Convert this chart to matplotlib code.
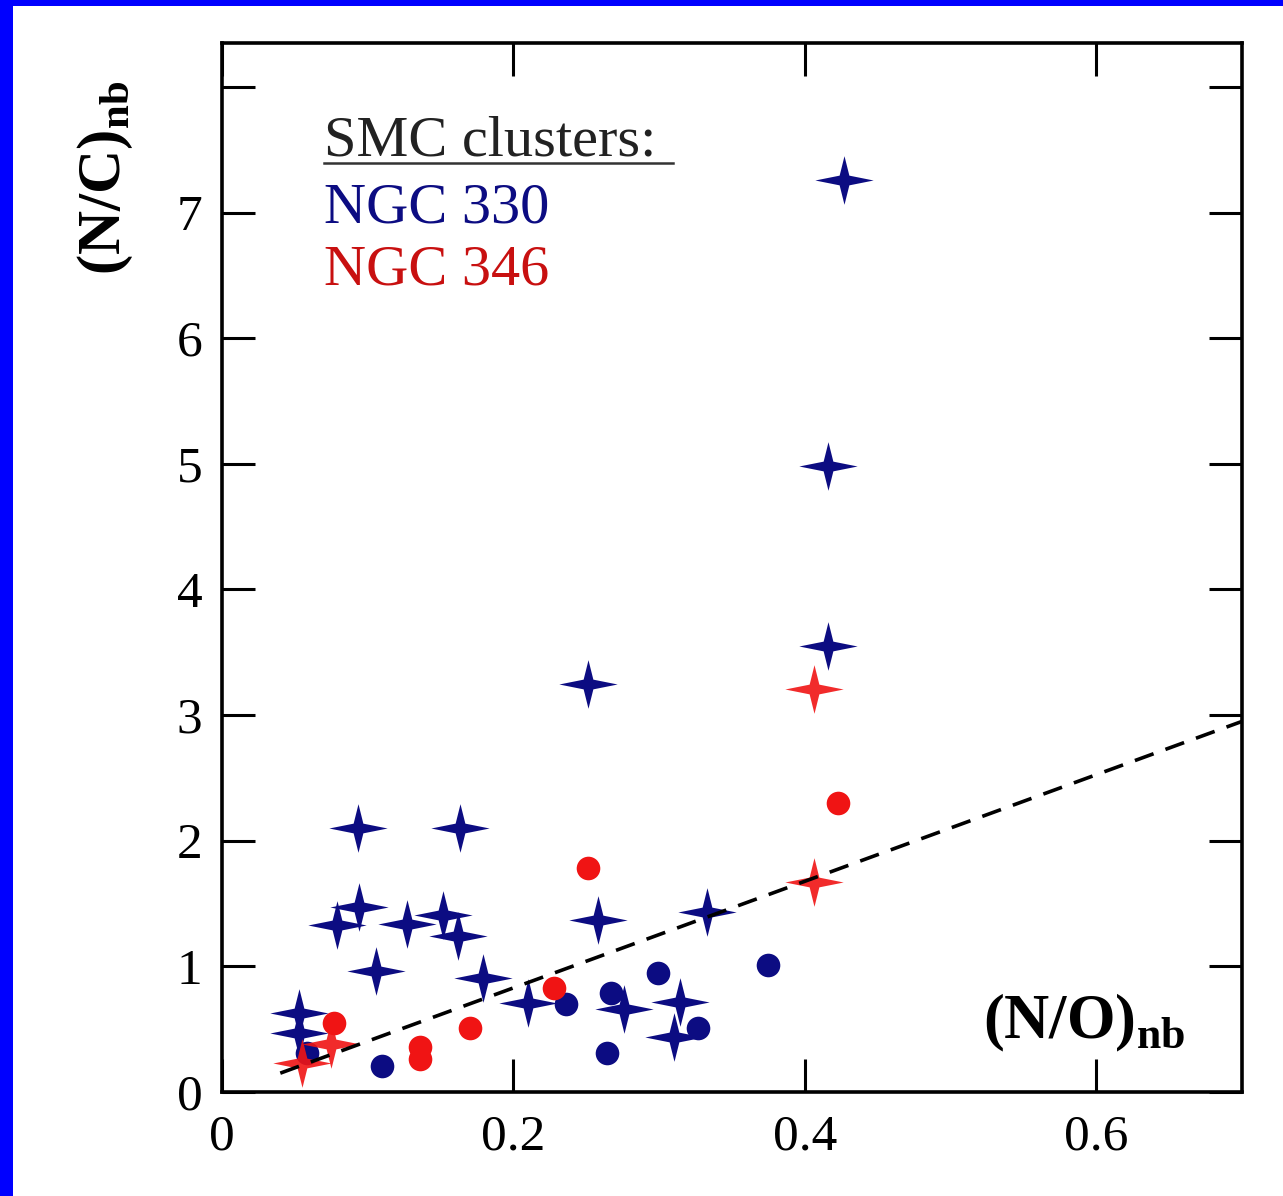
import matplotlib
matplotlib.use("Agg")
import matplotlib.pyplot as plt
from matplotlib.path import Path
from matplotlib.patches import Rectangle

# --- data ---
# NGC 330 (blue)
ngc330_star_x = [0.427, 0.416, 0.416, 0.251, 0.093, 0.163, 0.094, 0.079, 0.127, 0.152,
                 0.162, 0.106, 0.179, 0.210, 0.053, 0.053, 0.258, 0.333, 0.276, 0.314, 0.310]
ngc330_star_y = [7.26, 4.98, 3.55, 3.25, 2.10, 2.10, 1.47, 1.33, 1.34, 1.41,
                 1.24, 0.96, 0.91, 0.71, 0.63, 0.47, 1.37, 1.43, 0.66, 0.72, 0.44]
ngc330_dot_x = [0.058, 0.110, 0.236, 0.267, 0.299, 0.375, 0.327, 0.264]
ngc330_dot_y = [0.31, 0.21, 0.70, 0.79, 0.95, 1.01, 0.51, 0.31]

# NGC 346 (red)
ngc346_star_x = [0.406, 0.406, 0.055, 0.075]
ngc346_star_y = [3.21, 1.67, 0.23, 0.38]
ngc346_dot_x = [0.423, 0.251, 0.228, 0.170, 0.136, 0.136, 0.077]
ngc346_dot_y = [2.30, 1.78, 0.83, 0.51, 0.36, 0.26, 0.55]

# dashed reference line
line_x = [0.04, 0.70]
line_y = [0.15, 2.95]

x_ticks = [0, 0.2, 0.4, 0.6]
x_ticklabels = ["0", "0.2", "0.4", "0.6"]
y_ticks = [0, 1, 2, 3, 4, 5, 6, 7, 8]
y_ticklabels = ["0", "1", "2", "3", "4", "5", "6", "7", ""]

BLUE = "#0c0c82"
RED = "#f01414"

plt.rcParams["font.family"] = ["Liberation Serif", "DejaVu Serif"]
plt.rcParams["mathtext.fontset"] = "custom"
plt.rcParams["mathtext.rm"] = "Liberation Serif"
plt.rcParams["mathtext.bf"] = "Liberation Serif:bold"

# four-pointed star marker (wider than tall)
w, h, c = 1.2, 1.0, 0.2
star = Path([(w, 0), (c, c), (0, h), (-c, c), (-w, 0), (-c, -c), (0, -h), (c, -c), (w, 0)],
            [Path.MOVETO] + [Path.LINETO] * 7 + [Path.CLOSEPOLY])

fig = plt.figure(figsize=(12.83, 11.96), dpi=100, facecolor="#0000ff")
fig.patches.append(Rectangle((13 / 1283, 0), 1, 1 - 6 / 1196, transform=fig.transFigure,
                             facecolor="white", edgecolor="none", zorder=-10))

ax = fig.add_axes([222 / 1283, 1 - 1092 / 1196, 1020 / 1283, 1049 / 1196])
ax.set_zorder(5)

ax.plot(ngc330_star_x, ngc330_star_y, linestyle="none", marker=star, markersize=42,
        color=BLUE, markeredgewidth=0, zorder=3)
ax.plot(ngc330_dot_x, ngc330_dot_y, linestyle="none", marker="o", markersize=17,
        color=BLUE, markeredgewidth=0, zorder=3)
ax.plot(ngc346_dot_x, ngc346_dot_y, linestyle="none", marker="o", markersize=17,
        color=RED, markeredgewidth=0, zorder=4)
ax.plot(ngc346_star_x, ngc346_star_y, linestyle="none", marker=star, markersize=42,
        color=RED, markeredgewidth=0, alpha=0.9, zorder=4)

ax.plot(line_x, line_y, color="black", linestyle=(0, (5.5, 3.5)), linewidth=2.6, zorder=5)

ax.set_xlim(0, 0.7)
ax.set_ylim(0, 8.35)
ax.set_xticks(x_ticks)
ax.set_xticklabels(x_ticklabels)
ax.set_yticks(y_ticks)
ax.set_yticklabels(y_ticklabels)
ax.tick_params(direction="in", length=24, width=2.2, top=True, right=True,
               labelsize=37)
ax.tick_params(axis="x", pad=16)
ax.tick_params(axis="y", pad=14)
for sp in ax.spines.values():
    sp.set_linewidth(2.6)

# labels
ax.text(0.944, 0.036, r"(N/O)$_{\mathbf{nb}}$", transform=ax.transAxes, ha="right",
        va="bottom", fontsize=45, fontweight="bold")
fig.text(105 / 1283, 1 - 178 / 1196, r"(N/C)$_{\mathbf{nb}}$", rotation=90, ha="center",
         va="center", fontsize=44, fontweight="bold")

# legend-like annotation
ax.text(0.1, 0.893, "SMC clusters:", transform=ax.transAxes, fontsize=42,
        color="#222222", va="baseline")
ax.plot([0.1, 0.442], [0.886, 0.886], transform=ax.transAxes, color="#333333",
        linewidth=1.8, clip_on=False)
ax.text(0.1, 0.829, "NGC 330", transform=ax.transAxes, fontsize=42, color=BLUE,
        va="baseline")
ax.text(0.1, 0.770, "NGC 346", transform=ax.transAxes, fontsize=42, color="#c81010",
        va="baseline")

fig.savefig("out.png", dpi=100, facecolor=fig.get_facecolor())
